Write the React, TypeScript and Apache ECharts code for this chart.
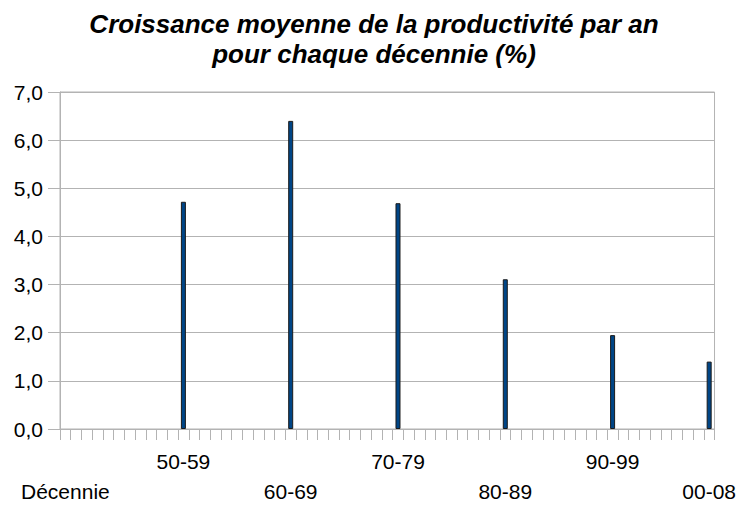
import React, { useEffect, useRef } from "react";
import * as echarts from "echarts";

const years = [
  "1948", "1949", "1950", "1951", "1952", "1953", "1954", "1955", "1956", "1957",
  "1958", "1959", "1960", "1961", "1962", "1963", "1964", "1965", "1966", "1967",
  "1968", "1969", "1970", "1971", "1972", "1973", "1974", "1975", "1976", "1977",
  "1978", "1979", "1980", "1981", "1982", "1983", "1984", "1985", "1986", "1987",
  "1988", "1989", "1990", "1991", "1992", "1993", "1994", "1995", "1996", "1997",
  "1998", "1999", "2000", "2001", "2002", "2003", "2004", "2005", "2006", "2007",
  "2008",
];
const labelYears = ["1948", "1959", "1969", "1979", "1989", "1999", "2008"];
const tickLabels = ["Décennie", "50-59", "60-69", "70-79", "80-89", "90-99", "00-08"];
const barYears = ["1959", "1969", "1979", "1989", "1999", "2008"];
const growth = [4.72, 6.4, 4.69, 3.11, 1.95, 1.4];
const yTicks = [0, 1, 2, 3, 4, 5, 6, 7];

const FONT = "'Liberation Sans', Arial, sans-serif";

export default function App() {
  const ref = useRef<HTMLDivElement>(null);
  useEffect(() => {
    document.body.style.margin = "0";
    if (!ref.current) return;
    const chart = echarts.init(ref.current, undefined, { renderer: "svg" });
    const seriesData = years.map((y) => {
      const i = barYears.indexOf(y);
      return i >= 0 ? growth[i] : null;
    });
    chart.setOption({
      animation: false,
      title: {
        text: "Croissance moyenne de la productivité par an\npour chaque décennie (%)",
        left: 374,
        top: 9,
        padding: 0,
        textAlign: "center",
        textStyle: {
          fontFamily: FONT,
          fontSize: 26,
          fontWeight: "bold",
          fontStyle: "italic",
          color: "#000",
          lineHeight: 30,
        },
      },
      grid: {
        left: 60,
        right: 22,
        top: 92,
        bottom: 68,
        show: true,
        borderColor: "#b3b3b3",
        borderWidth: 1,
      },
      xAxis: {
        type: "category",
        data: years,
        boundaryGap: true,
        axisLine: { show: true, lineStyle: { color: "#b3b3b3", width: 1 } },
        axisTick: {
          show: true,
          interval: 0,
          length: 11,
          lineStyle: { color: "#b3b3b3", width: 1 },
        },
        axisLabel: {
          interval: 0,
          margin: 17,
          fontFamily: FONT,
          fontSize: 21,
          color: "#000",
          lineHeight: 30,
          formatter: (v: string) => {
            const i = labelYears.indexOf(v);
            if (i < 0) return "";
            return i % 2 === 0 ? "\n" + tickLabels[i] : tickLabels[i];
          },
        },
        splitLine: { show: false },
      },
      yAxis: {
        type: "value",
        min: yTicks[0],
        max: yTicks[yTicks.length - 1],
        interval: 1,
        axisLine: { show: true, lineStyle: { color: "#b3b3b3", width: 1 } },
        axisTick: { show: true, length: 12, lineStyle: { color: "#b3b3b3", width: 1 } },
        axisLabel: {
          margin: 17,
          fontFamily: FONT,
          fontSize: 21,
          color: "#000",
          formatter: (v: number) => v.toFixed(1).replace(".", ","),
        },
        splitLine: { show: true, lineStyle: { color: "#b3b3b3", width: 1 } },
      },
      series: [
        {
          type: "bar",
          data: seriesData,
          barWidth: 5,
          itemStyle: { color: "#004586", borderColor: "#1a1a1a", borderWidth: 1 },
        },
      ],
    });
    return () => chart.dispose();
  }, []);
  return <div ref={ref} style={{ width: 739, height: 506 }} />;
}
